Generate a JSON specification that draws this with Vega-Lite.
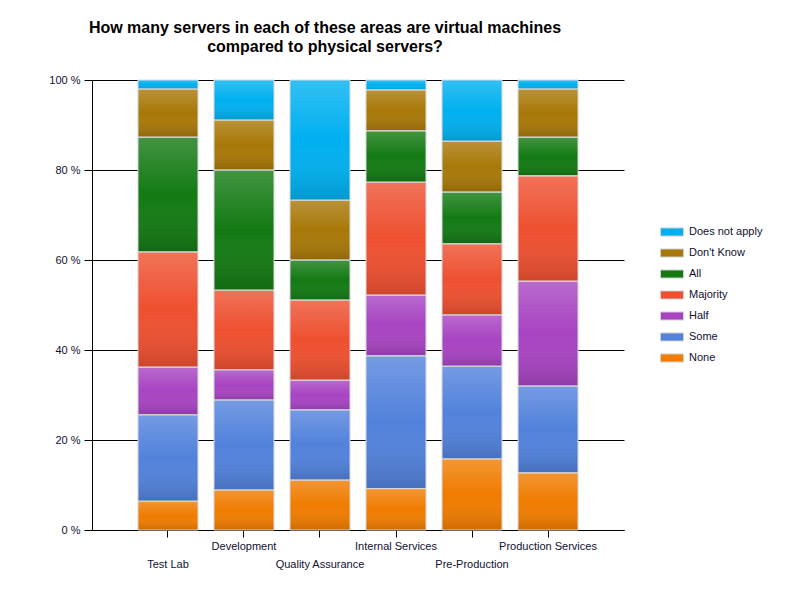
{
  "$schema": "https://vega.github.io/schema/vega-lite/v6.json",
  "autosize": "none",
  "padding": {"left": 92, "top": 80, "right": 176, "bottom": 70},
  "width": 532,
  "height": 450,
  "title": {
    "text": ["How many servers in each of these areas are virtual machines", "compared to physical servers?"],
    "font": "Liberation Sans",
    "fontSize": 16,
    "fontWeight": "bold",
    "color": "#000000",
    "lineHeight": 19,
    "anchor": "middle",
    "dx": -33,
    "offset": 19
  },
  "data": {
    "values": [
      {"area": "Test Lab", "answer": "None", "k": 0, "pct": 6.4},
      {"area": "Test Lab", "answer": "Some", "k": 1, "pct": 19.2},
      {"area": "Test Lab", "answer": "Half", "k": 2, "pct": 10.6},
      {"area": "Test Lab", "answer": "Majority", "k": 3, "pct": 25.6},
      {"area": "Test Lab", "answer": "All", "k": 4, "pct": 25.5},
      {"area": "Test Lab", "answer": "Don't Know", "k": 5, "pct": 10.7},
      {"area": "Test Lab", "answer": "Does not apply", "k": 6, "pct": 2.0},
      {"area": "Development", "answer": "None", "k": 0, "pct": 8.9},
      {"area": "Development", "answer": "Some", "k": 1, "pct": 20.0},
      {"area": "Development", "answer": "Half", "k": 2, "pct": 6.7},
      {"area": "Development", "answer": "Majority", "k": 3, "pct": 17.7},
      {"area": "Development", "answer": "All", "k": 4, "pct": 26.7},
      {"area": "Development", "answer": "Don't Know", "k": 5, "pct": 11.1},
      {"area": "Development", "answer": "Does not apply", "k": 6, "pct": 8.9},
      {"area": "Quality Assurance", "answer": "None", "k": 0, "pct": 11.1},
      {"area": "Quality Assurance", "answer": "Some", "k": 1, "pct": 15.6},
      {"area": "Quality Assurance", "answer": "Half", "k": 2, "pct": 6.6},
      {"area": "Quality Assurance", "answer": "Majority", "k": 3, "pct": 17.8},
      {"area": "Quality Assurance", "answer": "All", "k": 4, "pct": 8.9},
      {"area": "Quality Assurance", "answer": "Don't Know", "k": 5, "pct": 13.3},
      {"area": "Quality Assurance", "answer": "Does not apply", "k": 6, "pct": 26.7},
      {"area": "Internal Services", "answer": "None", "k": 0, "pct": 9.2},
      {"area": "Internal Services", "answer": "Some", "k": 1, "pct": 29.5},
      {"area": "Internal Services", "answer": "Half", "k": 2, "pct": 13.5},
      {"area": "Internal Services", "answer": "Majority", "k": 3, "pct": 25.1},
      {"area": "Internal Services", "answer": "All", "k": 4, "pct": 11.4},
      {"area": "Internal Services", "answer": "Don't Know", "k": 5, "pct": 9.1},
      {"area": "Internal Services", "answer": "Does not apply", "k": 6, "pct": 2.2},
      {"area": "Pre-Production", "answer": "None", "k": 0, "pct": 15.8},
      {"area": "Pre-Production", "answer": "Some", "k": 1, "pct": 20.6},
      {"area": "Pre-Production", "answer": "Half", "k": 2, "pct": 11.4},
      {"area": "Pre-Production", "answer": "Majority", "k": 3, "pct": 15.8},
      {"area": "Pre-Production", "answer": "All", "k": 4, "pct": 11.5},
      {"area": "Pre-Production", "answer": "Don't Know", "k": 5, "pct": 11.3},
      {"area": "Pre-Production", "answer": "Does not apply", "k": 6, "pct": 13.6},
      {"area": "Production Services", "answer": "None", "k": 0, "pct": 12.7},
      {"area": "Production Services", "answer": "Some", "k": 1, "pct": 19.3},
      {"area": "Production Services", "answer": "Half", "k": 2, "pct": 23.3},
      {"area": "Production Services", "answer": "Majority", "k": 3, "pct": 23.4},
      {"area": "Production Services", "answer": "All", "k": 4, "pct": 8.6},
      {"area": "Production Services", "answer": "Don't Know", "k": 5, "pct": 10.7},
      {"area": "Production Services", "answer": "Does not apply", "k": 6, "pct": 2.0}
    ]
  },
  "encoding": {
    "x": {
      "field": "area",
      "type": "nominal",
      "sort": null,
      "title": null,
      "scale": {"paddingInner": 0.2105, "paddingOuter": 0.605},
      "axis": {
        "domainColor": "#000000",
        "tickColor": "#000000",
        "tickSize": 7,
        "labelAngle": 0,
        "labelFont": "Liberation Sans",
        "labelFontSize": 11,
        "labelColor": "#101030",
        "labelBaseline": "top",
        "labelPadding": {
          "condition": {"test": "indexof(['Test Lab', 'Quality Assurance', 'Pre-Production'], datum.value) >= 0", "value": 21},
          "value": 3
        }
      }
    },
    "y": {
      "aggregate": "sum",
      "field": "pct",
      "type": "quantitative",
      "stack": "zero",
      "title": null,
      "scale": {"domain": [0, 100], "nice": false},
      "axis": {
        "values": [0, 20, 40, 60, 80, 100],
        "labelExpr": "datum.value + ' %'",
        "domainColor": "#000000",
        "tickColor": "#000000",
        "tickSize": 8,
        "labelPadding": 4,
        "labelFont": "Liberation Sans",
        "labelFontSize": 11,
        "labelColor": "#101030",
        "grid": true,
        "gridColor": "#000000",
        "gridOpacity": 1
      }
    },
    "order": {"field": "k", "type": "quantitative"}
  },
  "layer": [
    {
      "mark": {"type": "bar", "opacity": 1},
      "encoding": {
        "color": {
          "field": "answer",
          "type": "nominal",
          "scale": {
            "domain": ["Does not apply", "Don't Know", "All", "Majority", "Half", "Some", "None"],
            "range": ["#00b0f0", "#a87808", "#137a13", "#ee5030", "#a844c2", "#5282dc", "#f07c00"]
          },
          "legend": {
            "title": null,
            "orient": "none",
            "legendX": 568,
            "legendY": 140,
            "symbolType": "M-1,-0.35H1V0.35H-1Z",
            "symbolSize": 529,
            "symbolStrokeColor": "#d0d0d0",
            "symbolStrokeWidth": 1,
            "symbolOpacity": 1,
            "labelFont": "Liberation Sans",
            "labelFontSize": 11,
            "labelColor": "#101030",
            "labelOffset": 5,
            "rowPadding": 2
          }
        }
      }
    },
    {
      "mark": {
        "type": "bar",
        "stroke": "#d8d8d8",
        "strokeWidth": 1,
        "fill": {
          "gradient": "linear",
          "x1": 0, "y1": 0, "x2": 0, "y2": 1,
          "stops": [
            {"offset": 0, "color": "rgba(255,255,255,0.2)"},
            {"offset": 0.5, "color": "rgba(255,255,255,0)"},
            {"offset": 1, "color": "rgba(0,0,0,0.14)"}
          ]
        }
      },
      "encoding": {
        "detail": {"field": "answer", "type": "nominal"}
      }
    }
  ],
  "config": {
    "view": {"stroke": null},
    "axis": {"gridWidth": 1, "domainWidth": 1, "tickWidth": 1}
  }
}
